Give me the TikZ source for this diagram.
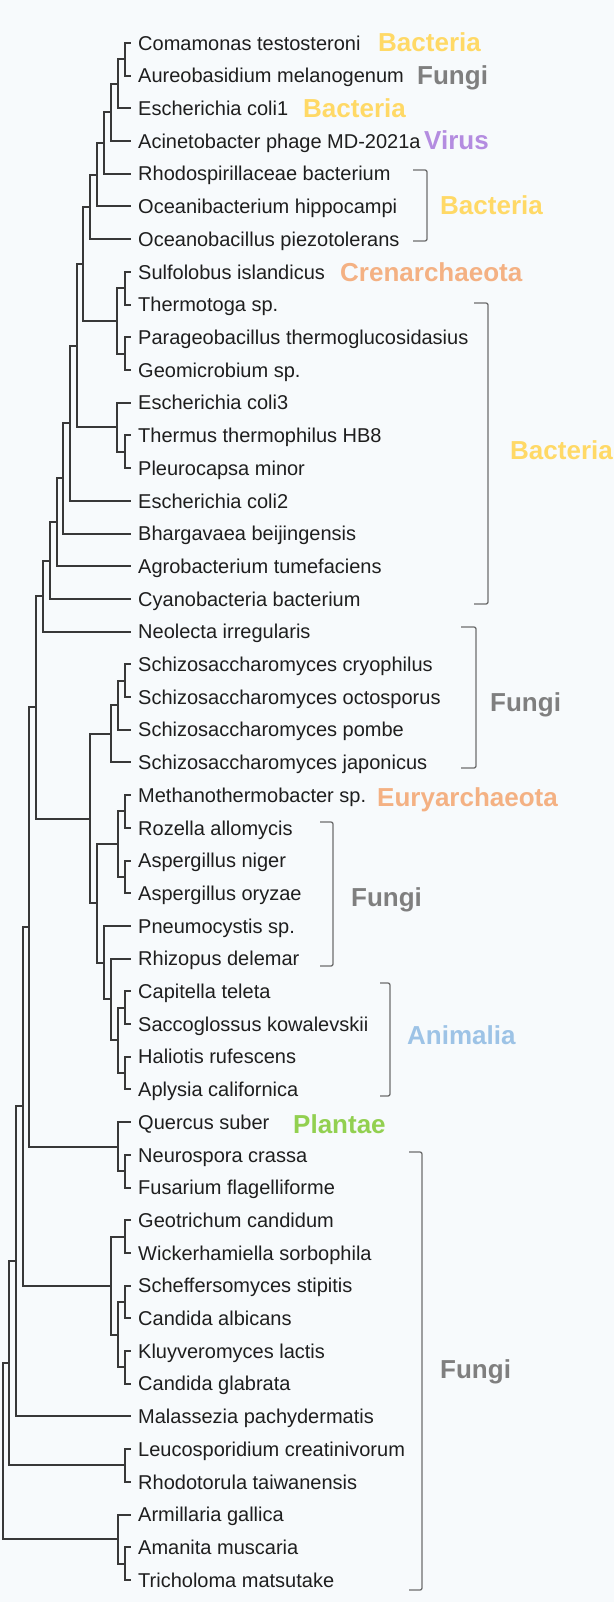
\documentclass[tikz,border=0pt]{standalone}
\usepackage{fontspec}
\setmainfont{Liberation Sans}
\usetikzlibrary{calc}
\definecolor{bgc}{HTML}{F7FAFC}
\definecolor{treec}{HTML}{383838}
\definecolor{brc}{HTML}{6E6E6E}
\definecolor{bactc}{HTML}{FFD966}
\definecolor{fungc}{HTML}{7F7F7F}
\definecolor{virc}{HTML}{B48CE0}
\definecolor{archc}{HTML}{F4B183}
\definecolor{animc}{HTML}{9DC3E6}
\definecolor{plantc}{HTML}{92D050}
\definecolor{spc}{HTML}{1E1E1E}
\newcommand\tnode[4]{%
  \path let \p1=($(#3)!0.5!(#4)$) in coordinate (#1) at (#2,\y1);
  \draw[branch] (#1) |- (#3);
  \draw[branch] (#1) |- (#4);
}
\newcommand\brk[4]{% xleft, xvert, ytop, ybottom
  \draw[bracketline] (#1,#3) -- (#2,#3) -- (#2,#4) -- (#1,#4);
}
\begin{document}
\begin{tikzpicture}[x=1pt,y=-1pt,
  branch/.style={draw=treec,line width=2pt,line cap=rect,line join=miter},
  bracketline/.style={draw=brc,line width=1.3pt,rounded corners=2pt},
  sp/.style={inner sep=0pt,anchor=base west,text=spc,font=\fontsize{20}{24}\selectfont},
  cat/.style={inner sep=0pt,anchor=base west,font=\fontsize{26}{30}\selectfont\bfseries}]
\fill[bgc] (0,0) rectangle (614,1602);
\useasboundingbox (0,0) rectangle (614,1602);
\foreach \i/\nm in {0/Comamonas testosteroni,1/Aureobasidium melanogenum,2/Escherichia coli1,3/Acinetobacter phage MD-2021a,4/Rhodospirillaceae bacterium,5/Oceanibacterium hippocampi,6/Oceanobacillus piezotolerans,7/Sulfolobus islandicus,8/Thermotoga sp.,9/Parageobacillus thermoglucosidasius,10/Geomicrobium sp.,11/Escherichia coli3,12/Thermus thermophilus HB8,13/Pleurocapsa minor,14/Escherichia coli2,15/Bhargavaea beijingensis,16/Agrobacterium tumefaciens,17/Cyanobacteria bacterium,18/Neolecta irregularis,19/Schizosaccharomyces cryophilus,20/Schizosaccharomyces octosporus,21/Schizosaccharomyces pombe,22/Schizosaccharomyces japonicus,23/Methanothermobacter sp.,24/Rozella allomycis,25/Aspergillus niger,26/Aspergillus oryzae,27/Pneumocystis sp.,28/Rhizopus delemar,29/Capitella teleta,30/Saccoglossus kowalevskii,31/Haliotis rufescens,32/Aplysia californica,33/Quercus suber,34/Neurospora crassa,35/Fusarium flagelliforme,36/Geotrichum candidum,37/Wickerhamiella sorbophila,38/Scheffersomyces stipitis,39/Candida albicans,40/Kluyveromyces lactis,41/Candida glabrata,42/Malassezia pachydermatis,43/Leucosporidium creatinivorum,44/Rhodotorula taiwanensis,45/Armillaria gallica,46/Amanita muscaria,47/Tricholoma matsutake}{
  \coordinate (L\i) at (130,{43+32.7*\i});
  \node[sp] (T\i) at (138,{43+32.7*\i+7.2}) {\nm};
}
\tnode{A1}{125}{L0}{L1}
\tnode{A2}{118}{A1}{L2}
\tnode{A3}{111}{A2}{L3}
\tnode{A4}{104}{A3}{L4}
\tnode{A5}{97}{A4}{L5}
\tnode{A6}{90}{A5}{L6}
\tnode{B1}{125}{L7}{L8}
\tnode{B2}{125}{L9}{L10}
\tnode{B3}{117}{B1}{B2}
\tnode{A7}{83}{A6}{B3}
\tnode{C1}{125}{L12}{L13}
\tnode{C2}{117}{L11}{C1}
\tnode{A8}{77}{A7}{C2}
\tnode{A9}{70}{A8}{L14}
\tnode{A10}{63}{A9}{L15}
\tnode{A11}{57}{A10}{L16}
\tnode{A12}{50}{A11}{L17}
\tnode{A13}{43}{A12}{L18}
\tnode{S1}{125}{L19}{L20}
\tnode{S2}{118}{S1}{L21}
\tnode{S3}{111}{S2}{L22}
\tnode{M1}{125}{L23}{L24}
\tnode{M2}{125}{L25}{L26}
\tnode{M3}{118}{M1}{M2}
\tnode{P1}{125}{L29}{L30}
\tnode{P2}{125}{L31}{L32}
\tnode{P3}{118}{P1}{P2}
\tnode{P4}{111}{L28}{P3}
\tnode{P5}{104}{L27}{P4}
\tnode{M4}{97}{M3}{P5}
\tnode{S4}{90}{S3}{M4}
\tnode{A14}{36}{A13}{S4}
\tnode{Q1}{125}{L34}{L35}
\tnode{Q2}{118}{L33}{Q1}
\tnode{A15}{29}{A14}{Q2}
\tnode{G1}{125}{L36}{L37}
\tnode{G2}{125}{L38}{L39}
\tnode{G3}{125}{L40}{L41}
\tnode{G4}{118}{G2}{G3}
\tnode{G5}{111}{G1}{G4}
\tnode{A16}{23}{A15}{G5}
\tnode{A17}{16}{A16}{L42}
\tnode{R1}{125}{L43}{L44}
\tnode{A18}{9}{A17}{R1}
\tnode{U1}{125}{L46}{L47}
\tnode{U2}{118}{L45}{U1}
\tnode{A19}{3}{A18}{U2}
% brackets
\brk{413}{427}{170}{241}
\brk{474}{488}{303}{604}
\brk{461}{476}{627}{768}
\brk{320}{333}{822}{966}
\brk{380}{390}{983}{1096}
\brk{409}{422}{1152}{1590}
% category labels
\node[cat,text=bactc] (c1) at (378,{42+9.3}) {Bacteria};
\node[cat,text=fungc] (c2) at (417,{75+9.3}) {Fungi};
\node[cat,text=bactc] (c3) at (303,{108+9.3}) {Bacteria};
\node[cat,text=virc] (c4) at (424,{140+9.3}) {Virus};
\node[cat,text=bactc] (c5) at (440,{205+9.3}) {Bacteria};
\node[cat,text=archc] (c6) at (340,{272+9.3}) {Crenarchaeota};
\node[cat,text=bactc] (c7) at (510,{450+9.3}) {Bacteria};
\node[cat,text=fungc] (c8) at (490,{702+9.3}) {Fungi};
\node[cat,text=archc] (c9) at (377,{797+9.3}) {Euryarchaeota};
\node[cat,text=fungc] (c10) at (351,{897+9.3}) {Fungi};
\node[cat,text=animc] (c11) at (407,{1035+9.3}) {Animalia};
\node[cat,text=plantc] (c12) at (293,{1124+9.3}) {Plantae};
\node[cat,text=fungc] (c13) at (440,{1369+9.3}) {Fungi};
\end{tikzpicture}
\end{document}
